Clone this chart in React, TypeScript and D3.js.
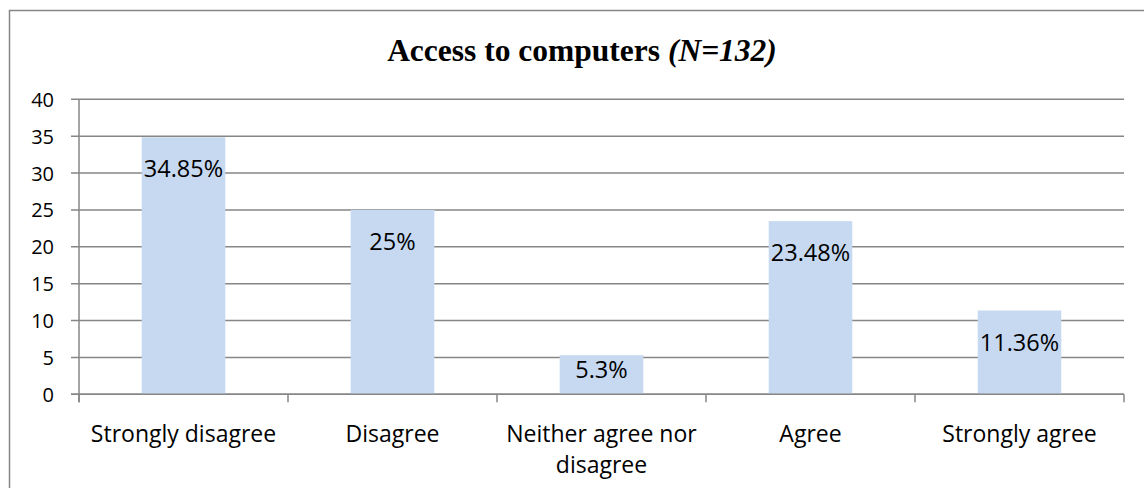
import { useEffect } from "react"
import * as d3 from "d3"

// Survey answers (percent of N=132)
const categories = ["Strongly disagree", "Disagree", "Neither agree nor disagree", "Agree", "Strongly agree"]
const values = [34.85, 25, 5.3, 23.48, 11.36]
const valueLabels = ["34.85%", "25%", "5.3%", "23.48%", "11.36%"]
const yTicks = [0, 5, 10, 15, 20, 25, 30, 35, 40]

const W = 1144
const H = 488
const plot = { left: 79, right: 1124, top: 99.3, bottom: 394.3 }
const gray = "#868686"
const sans = "'Open Sans', 'Noto Sans', sans-serif"

// crude wrap for the long category label
function wrapLabel(s: string): string[] {
  if (s.length < 20) return [s]
  const words = s.split(" ")
  return [words.slice(0, -1).join(" "), words[words.length - 1]]
}

export default function App() {
  useEffect(() => {
    document.body.style.margin = "0"
  }, [])

  const x = d3.scaleBand<string>().domain(categories).range([plot.left, plot.right]).padding(0)
  const xBar = d3
    .scaleBand<string>()
    .domain(categories)
    .range([plot.left, plot.right])
    .paddingInner(0.6)
    .paddingOuter(0.3)
  const y = d3.scaleLinear().domain([0, 40]).range([plot.bottom, plot.top])

  const catEdges = categories.map((c) => x(c) as number).concat([plot.right])

  return (
    <svg width={W} height={H} style={{ display: "block", background: "#fff" }}>
      {/* outer chart frame, runs off the right and bottom */}
      <path d={`M9.5,${H + 2} V10.5 H${W + 2}`} fill="none" stroke={gray} strokeWidth={1.5} />

      <text
        x={582}
        y={61}
        textAnchor="middle"
        fontFamily="'Liberation Serif', 'Times New Roman', serif"
        fontWeight="bold"
        fontSize={31.5}
        fill="#000"
      >
        Access to computers <tspan fontStyle="italic">(N=132)</tspan>
      </text>

      {/* gridlines + y ticks */}
      {yTicks.map((t) => (
        <g key={t}>
          <line x1={plot.left - 8} x2={plot.right} y1={y(t)} y2={y(t)} stroke={gray} strokeWidth={1.5} />
          <text
            x={54}
            y={y(t)}
            textAnchor="end"
            dominantBaseline="central"
            fontFamily={sans}
            fontSize={20}
            fill="#000"
          >
            {t}
          </text>
        </g>
      ))}

      {/* bars */}
      {categories.map((c, i) => (
        <rect
          key={c}
          x={xBar(c)}
          y={y(values[i])}
          width={xBar.bandwidth()}
          height={plot.bottom - y(values[i])}
          fill="#c6d9f1"
        />
      ))}

      {/* axes */}
      <line x1={plot.left} x2={plot.left} y1={plot.top} y2={plot.bottom + 8} stroke={gray} strokeWidth={1.5} />
      <line x1={plot.left - 8} x2={plot.right} y1={plot.bottom} y2={plot.bottom} stroke={gray} strokeWidth={1.5} />
      {catEdges.map((e, i) => (
        <line key={i} x1={e} x2={e} y1={plot.bottom} y2={plot.bottom + 8} stroke={gray} strokeWidth={1.5} />
      ))}

      {/* value labels, inside end */}
      {categories.map((c, i) => {
        const top = y(values[i])
        const h = plot.bottom - top
        const cy = h > 50 ? top + 31 : top + 14
        return (
          <text
            key={c}
            x={(xBar(c) as number) + xBar.bandwidth() / 2}
            y={cy}
            textAnchor="middle"
            dominantBaseline="central"
            fontFamily={sans}
            fontSize={23.5}
            fill="#000"
          >
            {valueLabels[i]}
          </text>
        )
      })}

      {/* category labels */}
      {categories.map((c) => (
        <text
          key={c}
          x={(x(c) as number) + x.bandwidth() / 2}
          y={442}
          textAnchor="middle"
          fontFamily={sans}
          fontSize={23}
          fill="#000"
        >
          {wrapLabel(c).map((line, j) => (
            <tspan key={j} x={(x(c) as number) + x.bandwidth() / 2} dy={j === 0 ? 0 : 31}>
              {line}
            </tspan>
          ))}
        </text>
      ))}
    </svg>
  )
}
